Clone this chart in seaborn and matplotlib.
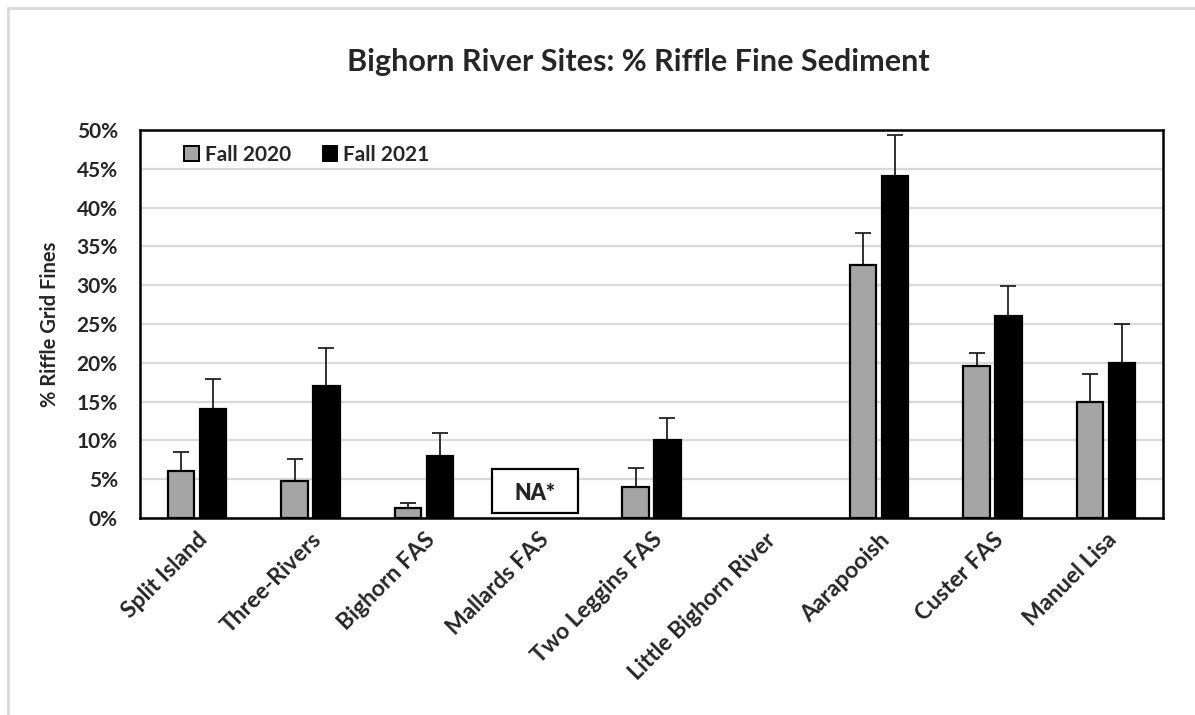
import numpy as np
import pandas as pd
import matplotlib
matplotlib.use("Agg")
import matplotlib.pyplot as plt
from matplotlib.lines import Line2D
from matplotlib.patches import Rectangle
from matplotlib.ticker import PercentFormatter, MultipleLocator
import seaborn as sns

# Sites along the river, upstream to downstream
sites = ["Split Island", "Three-Rivers", "Bighorn FAS", "Mallards FAS",
         "Two Leggins FAS", "Little Bighorn River", "Aarapooish",
         "Custer FAS", "Manuel Lisa"]
seasons = ["Fall 2020", "Fall 2021"]

# Mean % riffle grid fines and upper error (percent)
fall_2020 = [6.0, 4.8, 1.3, np.nan, 4.0, np.nan, 32.6, 19.6, 14.9]
fall_2020_err = [2.5, 2.8, 0.6, np.nan, 2.4, np.nan, 4.1, 1.6, 3.6]
fall_2021 = [14.0, 17.0, 8.0, np.nan, 10.0, np.nan, 44.1, 26.0, 20.0]
fall_2021_err = [3.9, 4.9, 3.0, np.nan, 2.9, np.nan, 5.3, 3.9, 5.0]

na_site = "Mallards FAS"
na_text = "NA*"

rows = []
for s, v, e in zip(sites, fall_2020, fall_2020_err):
    rows.append({"site": s, "season": seasons[0], "value": v / 100, "err": e / 100})
for s, v, e in zip(sites, fall_2021, fall_2021_err):
    rows.append({"site": s, "season": seasons[1], "value": v / 100, "err": e / 100})
df = pd.DataFrame(rows)

sns.set_theme(style="white")
plt.rcParams["font.family"] = ["Lato", "DejaVu Sans"]
plt.rcParams["font.weight"] = "bold"

fig = plt.figure(figsize=(11.95, 7.15), dpi=100)
ax = fig.add_axes([140 / 1195, 1 - 518 / 715, (1163 - 140) / 1195, (518 - 130) / 715])

palette = {seasons[0]: "#a5a5a5", seasons[1]: "#000000"}
plot_df = df.dropna(subset=["value"])
sns.barplot(data=plot_df, x="site", y="value", hue="season", order=sites,
            hue_order=seasons, palette=palette, width=0.56, gap=0.17,
            errorbar=None, edgecolor="black", linewidth=1.6, saturation=1,
            ax=ax, zorder=3)

# Upper error bars placed on the bars seaborn drew
for p in list(ax.patches):
    h = p.get_height()
    if not np.isfinite(h) or h <= 0:
        continue
    xc = p.get_x() + p.get_width() / 2
    cat = int(round(xc))
    season = seasons[0] if xc < cat else seasons[1]
    err = df[(df.site == sites[cat]) & (df.season == season)]["err"].iloc[0]
    ax.errorbar(xc, h, yerr=[[0], [err]], fmt="none", ecolor="#222222",
                elinewidth=1.3, capsize=6, capthick=1.3, zorder=2)

# Placeholder box for the site without data
na_idx = sites.index(na_site)
ax.add_patch(Rectangle((na_idx - 0.404, 0.0064), 0.756, 0.0566, fc="white",
                       ec="black", lw=1.6, zorder=4))
ax.text(na_idx - 0.026, 0.032, na_text, ha="center", va="center",
        fontsize=15.5, fontweight="heavy", zorder=5)

ax.set_ylim(0, 0.5)
ax.set_xlim(-0.5, len(sites) - 0.5)
ax.yaxis.set_major_locator(MultipleLocator(0.05))
ax.yaxis.set_major_formatter(PercentFormatter(1.0, decimals=0))
ax.yaxis.grid(True, color="#d9d9d9", lw=1.6, zorder=0)
ax.set_axisbelow(True)
for sp in ax.spines.values():
    sp.set_visible(True)
    sp.set_color("black")
    sp.set_linewidth(1.8)

ax.tick_params(axis="y", labelsize=15, length=0, pad=16)
ax.tick_params(axis="x", labelsize=16.5, length=0, pad=8)
for lab in ax.get_yticklabels():
    lab.set_fontweight("bold")
ax.set_xticks(range(len(sites)))
ax.set_xticklabels(sites, rotation=45, ha="right", rotation_mode="anchor",
                   fontweight="bold")
ax.set_xlabel("")
ax.set_ylabel("% Riffle Grid Fines", fontsize=14.5, fontweight="bold", labelpad=12)

leg = ax.legend(loc="upper left", ncol=2, frameon=False,
                handlelength=0.7, handleheight=0.7, handletextpad=0.3,
                columnspacing=1.5, bbox_to_anchor=(0.025, 1.01),
                prop={"weight": "bold", "size": 15})
for h in leg.legend_handles:
    h.set_edgecolor("black")
    h.set_linewidth(1.4)

fig.text(638 / 1195, 1 - 62 / 715, "Bighorn River Sites: % Riffle Fine Sediment",
         ha="center", va="center", fontsize=22, fontweight="bold")

# Light outer chart frame
fig.add_artist(Line2D([8 / 1195, 8 / 1195], [1 - 8 / 715, 0], color="#d9d9d9",
                      lw=2, transform=fig.transFigure))
fig.add_artist(Line2D([8 / 1195, 1], [1 - 8 / 715, 1 - 8 / 715], color="#d9d9d9",
                      lw=2, transform=fig.transFigure))

fig.savefig("out.png", dpi=100)
